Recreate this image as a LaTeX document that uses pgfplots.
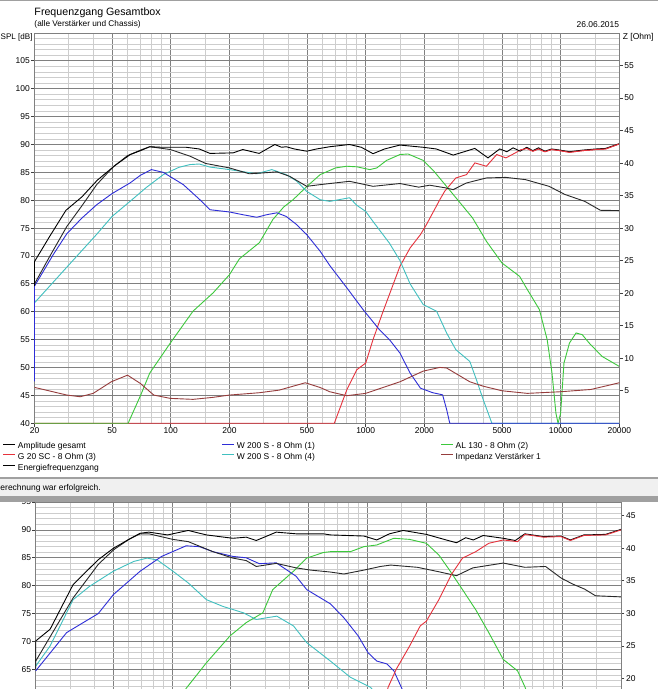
\documentclass[border=0pt]{standalone}
\usepackage{fontspec}
\setmainfont{Liberation Sans}
\usepackage{pgfplots}
\pgfplotsset{compat=1.18}
\definecolor{cBlue}{RGB}{45,45,215}
\definecolor{cCyan}{RGB}{64,192,192}
\definecolor{cGreen}{RGB}{60,200,60}
\definecolor{cRed}{RGB}{230,50,60}
\definecolor{cBrown}{RGB}{150,60,60}
\definecolor{cMaj}{RGB}{128,128,128}
\definecolor{cMin}{RGB}{205,205,205}
\definecolor{cEng}{RGB}{40,40,40}
\definecolor{cBar}{RGB}{240,240,240}
\definecolor{cBand}{RGB}{160,160,160}
\newcommand\sm{\fontsize{8.5}{10}\selectfont}
\tikzset{crv/.style={line width=0.9bp}}
\begin{document}
\begin{tikzpicture}[x=1bp,y=1bp]
\path[use as bounding box] (0,0) rectangle (658,689);
\clip (0,0) rectangle (658,689);
\fill[white] (0,0) rectangle (658,689);

% ---------------- lower (cropped) chart ----------------
\begin{axis}[at={(35.7bp,-120bp)}, anchor=south west,
  scale only axis, width=585.3bp, height=307bp, clip=false,
  xmode=log, xmin=20, xmax=20000, ymin=40, ymax=95,
  xtick={20,50,100,200,500,1000,2000,5000,10000,20000},
  xticklabels={},
  minor xtick={30,40,60,70,80,90,150,300,400,600,700,800,900,1500,3000,4000,6000,7000,8000,9000,15000},
  ytick={65,70,...,95}, minor ytick={56,...,94},
  grid=both,
  major grid style={cMaj, line width=0.8bp},
  minor grid style={cMin, line width=0.8bp},
  axis line style={cMaj, line width=0.8bp},
  tick align=outside, major tick length=3.5bp, minor tick length=0pt,
  tick style={black!75, line width=0.8bp},
  xtick pos=left, ytick pos=left,
  tick label style={font=\sm},
  yticklabel style={inner xsep=1bp},
  /pgf/number format/assume math mode=true]
\addplot[cGreen, crv] coordinates {(20,40)(60,40)(80,48)(100,56)(118,61.6)(150,66.2)(198,71.0)(240,73.4)(292,75.15)(328,79.3)(419,82.6)(490,84.95)(596,85.95)(648,86.1)(820,86.1)(962,87.0)(1120,87.3)(1370,88.5)(1650,88.3)(2010,87.6)(2330,85.5)(2630,82.9)(3080,79.3)(3600,75.7)(4200,71.6)(4980,66.8)(5900,64.75)(6450,61.8)(7000,58)};
\addplot[cCyan, crv] coordinates {(20,65.6)(23.7,69.2)(31.1,77.5)(37.8,79.9)(50,82.6)(63.6,84.35)(74.4,84.95)(84.1,84.6)(101,82.6)(121,80.5)(150,77.5)(182,76.3)(232,75.15)(270,73.95)(344,74.55)(419,72.8)(490,69.8)(648,66.5)(820,63.6)(1040,61.8)(1300,58)};
\addplot[cBlue, crv] coordinates {(20,64.75)(28.8,71.6)(41.8,75.0)(50,78.4)(68.6,82.6)(88.4,85.25)(118,87.15)(138,87.0)(162,86.1)(205,85.25)(240,85.0)(280,83.95)(342,84.1)(432,81.7)(490,79.3)(648,76.75)(760,74.25)(900,71.0)(1010,68.0)(1120,66.5)(1260,66.0)(1370,64.75)(1510,61.5)(1700,57)};
\addplot[cEng, crv] coordinates {(20,66.5)(31.1,77.8)(41.8,83.8)(50,86.4)(60,88.3)(68.6,89.3)(76.1,89.3)(101,88.3)(121,87.9)(162,86.1)(205,84.95)(240,84.5)(270,83.45)(342,84.0)(432,83.2)(513,82.8)(648,82.45)(760,82.1)(962,82.8)(1170,83.45)(1320,83.7)(1810,83.3)(2330,82.5)(2870,81.8)(3480,83.2)(4980,84.06)(6430,83.3)(8210,83.45)(9840,81.4)(11300,80.3)(13000,79.4)(14800,78.2)(20000,78.0)};
\addplot[black, crv] coordinates {(20,65)(20,70.1)(23.7,72.2)(31.1,80.2)(41.8,84.65)(50,86.7)(60,88.3)(68.6,89.4)(76.1,89.6)(94.8,89.1)(121,89.9)(150,89.1)(205,88.5)(240,88.7)(270,88.1)(342,89.6)(432,89.3)(596,89.3)(648,89.1)(962,88.9)(1120,88.2)(1300,89.3)(1530,89.9)(2010,89.2)(2540,88.2)(2870,87.7)(3200,88.6)(3500,88.2)(3930,89.0)(4980,88.5)(5740,88.1)(6430,89.3)(8000,88.8)(9840,88.9)(11000,88.2)(12900,89.1)(16700,89.2)(20000,90.1)};
\addplot[cRed, crv] coordinates {(1240,60)(1280,61.8)(1410,65.05)(1650,69.2)(1870,72.8)(2010,73.65)(2330,77.5)(2700,82.0)(3080,84.95)(3600,86.1)(4200,87.6)(4980,88.2)(5900,87.9)(6430,89.2)(8000,88.7)(9840,88.8)(11000,88.1)(12900,89.0)(16700,89.1)(20000,90.0)};
\end{axis}
\begin{axis}[at={(35.7bp,-120bp)}, anchor=south west,
  scale only axis, width=585.3bp, height=307bp,
  xmode=log, xmin=20, xmax=20000, ymin=0, ymax=47.1,
  axis x line=none, axis y line*=right,
  ytick={20,25,...,45},
  axis line style={cMaj, line width=0.8bp},
  tick align=outside, major tick length=3.5bp,
  tick style={black!75, line width=0.8bp},
  tick label style={font=\sm},
  yticklabel style={inner xsep=1.5bp},
  /pgf/number format/assume math mode=true]
\addplot[cBrown, crv] coordinates {(20,5.52)(29.3,4.34)(34.3,4.08)(40,4.6)(49.5,6.38)(60,7.4)(69.8,6.13)(81.8,4.34)(99.5,3.83)(130,3.68)(165,3.99)(200,4.34)(285,4.7)(360,5.1)(490,6.23)(584,5.5)(654,4.85)(800,4.24)(1000,4.6)(1498,6.38)(1972,8.02)(2400,8.59)(2600,8.5)(3420,6.38)(4010,5.7)(5000,5.0)(6740,4.6)(10000,4.85)(14300,5.2)(20000,6.23)};
\end{axis}

% ---------------- status bar ----------------
\fill[cBand] (0,210.3) rectangle (658,212.3);
\fill[cBar] (0,193) rectangle (658,210.3);
\fill[cBand] (0,187.3) rectangle (658,193);
\node[font=\sm, anchor=base west, inner sep=0pt] at (0.3,198) {erechnung war erfolgreich.};

% ---------------- top chart ----------------
\begin{axis}[at={(34.5bp,265.7bp)}, anchor=south west,
  scale only axis, width=584.8bp, height=390.3bp, clip=false,
  xmode=log, xmin=20, xmax=20000, ymin=40, ymax=110,
  xtick={20,50,100,200,500,1000,2000,5000,10000,20000},
  xticklabels={20,50,100,200,500,1000,2000,5000,10000,20000},
  minor xtick={30,40,60,70,80,90,150,300,400,600,700,800,900,1500,3000,4000,6000,7000,8000,9000,15000},
  ytick={40,45,...,105}, minor ytick={41,...,109},
  grid=both,
  major grid style={cMaj, line width=0.8bp},
  minor grid style={cMin, line width=0.8bp},
  axis line style={cMaj, line width=0.8bp},
  tick align=outside, major tick length=3.5bp, minor tick length=0pt,
  tick style={black!75, line width=0.8bp},
  xtick pos=left, ytick pos=left,
  tick label style={font=\sm},
  yticklabel style={inner xsep=1bp},
  xticklabel style={inner ysep=1bp},
  /pgf/number format/assume math mode=true,
  legend columns=3,
  legend cell align=left,
  legend style={at={(-0.05387,-0.0466)}, anchor=north west, draw=none, fill=none,
    inner sep=0pt, outer sep=0pt, row sep=0pt, column sep=0pt, font=\sm,
    nodes={inner sep=0pt, outer sep=0pt, text height=7.2bp, text depth=3.5bp}},
  legend image code/.code={\draw[#1, line width=0.9bp] (0bp,2.6bp) -- (12bp,2.6bp);}]
\addplot[cRed, crv, forget plot] coordinates {(20,40)(690,40)(800,46.0)(900,49.6)(1000,50.8)(1090,55)(1220,59.8)(1498,68.15)(1690,71.45)(1910,73.85)(2050,75.65)(2400,80.1)(2540,81.6)(2900,84)(3290,84.6)(3630,86.7)(4160,86.1)(4700,88.2)(5240,87.6)(5860,88.5)(6200,89.0)(6700,89.3)(7200,88.8)(7700,89.2)(8300,88.7)(9000,89.1)(9900,88.9)(11100,88.6)(13000,88.9)(15200,89.1)(17000,89.2)(20000,90.1)};
\addplot[cGreen, crv, forget plot] coordinates {(20,40)(60.4,40)(70,45)(78,49.0)(99.5,54.4)(130,60.1)(165,63.4)(200,66.65)(225,69.5)(285,72.4)(334,76.55)(380,78.8)(424,80.1)(500,82.5)(584,84.6)(700,85.8)(800,86.1)(900,86.0)(1050,85.5)(1140,85.8)(1280,87.15)(1498,88.2)(1650,88.3)(1972,87.15)(2240,85.2)(2810,81.05)(3530,76.85)(4160,72.65)(5000,68.75)(6160,66.35)(6600,64.55)(7780,60.4)(8530,55.0)(9030,49.0)(9460,41.8)(9700,40)(10000,41.8)(10400,50.8)(11100,54.4)(12000,56.2)(12900,55.9)(14000,54.4)(16300,52.0)(20000,50.2)};
\addplot[cCyan, crv, forget plot] coordinates {(20,61.6)(30,68.4)(41.7,73.9)(50,77.1)(61.8,79.8)(75,82.3)(91.6,84.6)(110,85.9)(125.6,86.4)(140,86.5)(159,85.95)(200,85.5)(276,84.75)(330,85.5)(391,84.6)(440,83.5)(498,81.6)(584,80.1)(654,79.8)(826,80.45)(900,79.1)(1000,78.0)(1090,76.2)(1324,72.3)(1498,69.2)(1690,65.0)(1972,61.3)(2310,60.1)(2600,56.2)(2900,53.2)(3420,51.1)(3700,47.8)(4010,44.2)(4440,40)(20000,40)};
\addplot[cBlue, crv, forget plot] coordinates {(20,47.5)(20,64.6)(25,70.3)(29.3,74.0)(35,76.8)(41.7,79.2)(50,81.2)(61.8,83.1)(70,84.5)(79.6,85.5)(91.6,85.0)(116,82.8)(140,80.2)(159,78.3)(200,77.9)(235,77.4)(276,76.95)(310,77.4)(350,77.75)(391,77.1)(440,75.7)(498,73.85)(584,70.85)(654,68.3)(800,64.3)(969,60.4)(1175,56.8)(1324,55.0)(1498,52.6)(1690,49.0)(1910,46.3)(2200,45.5)(2480,45.1)(2600,42.5)(2700,40)(20000,40)};
\addplot[cEng, crv, forget plot] coordinates {(20,65)(24,70)(29.3,75.3)(35,79)(41.7,82.8)(50.7,86)(60,88)(70,89)(78,89.6)(99.5,89.1)(125.6,87.9)(151,86.6)(200,85.8)(253,84.75)(297,84.9)(350,85.1)(407,84.3)(498,82.5)(584,82.8)(654,83.0)(826,83.4)(1090,82.5)(1498,83.0)(1870,82.35)(2130,82.7)(2590,82.2)(2810,81.9)(3290,83.1)(4160,84.0)(5240,84.1)(6600,83.7)(8720,82.5)(10500,81.05)(13300,79.8)(16000,78.2)(20000,78.15)};
\addplot[black, crv, forget plot] coordinates {(20,64.6)(20,69.0)(24,73.6)(29,78.2)(35,80.6)(42,83.6)(52,86.3)(62,88.2)(70,88.9)(78,89.6)(90,89.5)(120,89.5)(140,89.2)(159,88.4)(209,88.5)(234,89.1)(284,88.4)(342,90.0)(370,89.5)(391,89.6)(430,89.2)(498,88.8)(560,89.2)(654,89.6)(826,90.0)(950,89.5)(1090,88.35)(1250,89.2)(1498,89.9)(1972,89.5)(2300,89.2)(2810,88.1)(3200,88.7)(3630,89.3)(3900,88.5)(4240,87.6)(4870,89.2)(5300,88.7)(5700,89.4)(6200,88.8)(6700,89.5)(7200,88.9)(7700,89.4)(8300,88.8)(9000,89.2)(9900,89.0)(11100,88.7)(13000,89.0)(15200,89.2)(17000,89.3)(20000,90.15)};
\addplot[cRed, crv, forget plot] coordinates {(6200,89.0)(6700,89.3)(7200,88.8)(7700,89.2)(8300,88.7)(9000,89.1)(9900,88.9)(11100,88.6)(13000,88.9)(15200,89.1)(17000,89.2)(20000,90.1)};
\addlegendimage{black}
\addlegendentry{\makebox[206bp][l]{\hspace{2bp}Amplitude gesamt}}
\addlegendimage{cBlue}
\addlegendentry{\makebox[206bp][l]{\hspace{2bp}W 200 S - 8 Ohm (1)}}
\addlegendimage{cGreen}
\addlegendentry{\hspace{2bp}AL 130 - 8 Ohm (2)}
\addlegendimage{cRed}
\addlegendentry{\makebox[206bp][l]{\hspace{2bp}G 20 SC - 8 Ohm (3)}}
\addlegendimage{cCyan}
\addlegendentry{\makebox[206bp][l]{\hspace{2bp}W 200 S - 8 Ohm (4)}}
\addlegendimage{cBrown}
\addlegendentry{\hspace{2bp}Impedanz Verstärker 1}
\addlegendimage{black}
\addlegendentry{\makebox[206bp][l]{\hspace{2bp}Energiefrequenzgang}}
\end{axis}
\begin{axis}[at={(34.5bp,265.7bp)}, anchor=south west,
  scale only axis, width=584.8bp, height=390.3bp,
  xmode=log, xmin=20, xmax=20000, ymin=0, ymax=60,
  axis x line=none, axis y line*=right,
  ytick={5,10,...,55},
  axis line style={cMaj, line width=0.8bp},
  tick align=outside, major tick length=3.5bp,
  tick style={black!75, line width=0.8bp},
  tick label style={font=\sm},
  yticklabel style={inner xsep=1.5bp},
  /pgf/number format/assume math mode=true]
\addplot[cBrown, crv] coordinates {(20,5.52)(29.3,4.34)(34.3,4.08)(40,4.6)(49.5,6.38)(60,7.4)(69.8,6.13)(81.8,4.34)(99.5,3.83)(130,3.68)(165,3.99)(200,4.34)(285,4.7)(360,5.1)(490,6.23)(584,5.5)(654,4.85)(800,4.24)(1000,4.6)(1498,6.38)(1972,8.02)(2400,8.59)(2600,8.5)(3420,6.38)(4010,5.7)(5000,5.0)(6740,4.6)(10000,4.85)(14300,5.2)(20000,6.23)};
\end{axis}

% ---------------- texts ----------------
\fill[cBand] (0,687.5) rectangle (658,689);
\node[font=\fontsize{10.7}{12}\selectfont, anchor=base west, inner sep=0pt] at (34.3,673) {Frequenzgang Gesamtbox};
\node[font=\fontsize{8.3}{10}\selectfont, anchor=base west, inner sep=0pt] at (34.3,662.3) {(alle Verstärker und Chassis)};
\node[font=\sm, anchor=base east, inner sep=0pt] at (619.3,661.7) {26.06.2015};
\node[font=\fontsize{8.1}{10}\selectfont, anchor=base west, inner sep=0pt] at (0.5,649) {SPL [dB]};
\node[font=\sm, anchor=base west, inner sep=0pt] at (622.7,649) {Z [Ohm]};
\end{tikzpicture}
\end{document}
